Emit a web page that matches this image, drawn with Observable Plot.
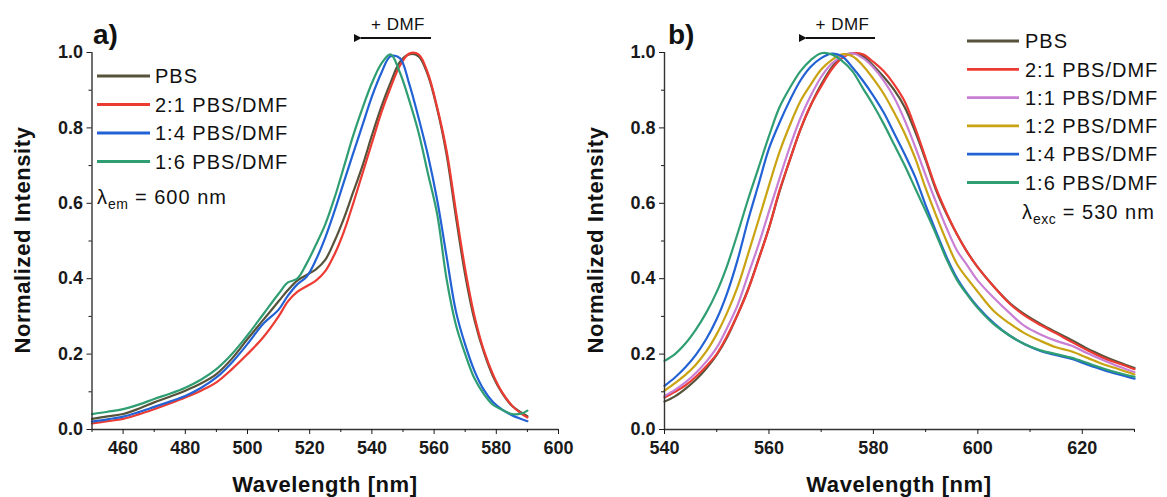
<!DOCTYPE html>
<html><head><meta charset="utf-8">
<script src="https://cdn.jsdelivr.net/npm/d3@7"></script>
<script src="https://cdn.jsdelivr.net/npm/@observablehq/plot@0.6"></script>
<style>
body{margin:0;background:#fff;}
#wrap{position:relative;width:1167px;height:497px;overflow:hidden;font-family:"Liberation Sans",Arial,sans-serif;}
.panel{position:absolute;top:0;}
#overlay{position:absolute;left:0;top:0;pointer-events:none;}
</style></head><body><div id="wrap"></div>
<script>
// ---------- Panel a) data (excitation, λem = 600 nm) ----------
const seriesA = ["PBS", "2:1 PBS/DMF", "1:4 PBS/DMF", "1:6 PBS/DMF"];
const colorsA = ["#56533a", "#ec3b33", "#2262d4", "#2f9e72"];
const wlA = [450,455,460,465,470,475,480,485,490,495,500,505,510,513,516,519,522,525,528,531,534,537,540,543,546,549,552,555,558,561,564,567,570,573,576,579,582,585,588,590];
const aPBS = [0.028,0.035,0.041,0.055,0.072,0.087,0.103,0.122,0.147,0.188,0.24,0.29,0.34,0.37,0.395,0.41,0.425,0.45,0.50,0.56,0.63,0.70,0.78,0.855,0.92,0.975,0.995,0.99,0.94,0.85,0.73,0.565,0.41,0.29,0.205,0.14,0.095,0.063,0.045,0.035];
const a21  = [0.016,0.022,0.028,0.04,0.054,0.069,0.085,0.103,0.125,0.16,0.20,0.244,0.30,0.34,0.365,0.38,0.395,0.42,0.465,0.525,0.60,0.68,0.76,0.84,0.907,0.965,0.997,0.995,0.945,0.854,0.74,0.58,0.425,0.30,0.21,0.145,0.097,0.064,0.042,0.032];
const a14  = [0.021,0.027,0.034,0.046,0.06,0.074,0.089,0.11,0.138,0.178,0.227,0.28,0.318,0.355,0.385,0.405,0.45,0.509,0.58,0.657,0.733,0.808,0.883,0.945,0.99,0.985,0.917,0.827,0.728,0.608,0.46,0.314,0.225,0.155,0.105,0.072,0.052,0.038,0.028,0.022];
const a16  = [0.041,0.047,0.054,0.066,0.081,0.095,0.111,0.132,0.16,0.2,0.25,0.305,0.36,0.39,0.40,0.44,0.49,0.544,0.615,0.697,0.78,0.853,0.919,0.97,0.995,0.947,0.873,0.788,0.68,0.571,0.40,0.278,0.20,0.135,0.094,0.065,0.052,0.041,0.042,0.05];
const xMajorA = [460,480,500,520,540,560,580,600];
const xMinorA = [450,470,490,510,530,550,570,590];

// ---------- Panel b) data (emission, λexc = 530 nm) ----------
const seriesB = ["PBS", "2:1 PBS/DMF", "1:1 PBS/DMF", "1:2 PBS/DMF", "1:4 PBS/DMF", "1:6 PBS/DMF"];
const colorsB = ["#56533a", "#ec3b33", "#c87fd4", "#c9a312", "#2262d4", "#2f9e72"];
const wlB = [540,542,544,546,548,550,552,554,556,558,560,562,564,566,568,570,572,574,576,578,580,582,584,586,588,590,592,594,596,598,600,603,606,609,612,615,618,621,624,627,630];
const bPBS = [0.074,0.088,0.108,0.132,0.162,0.198,0.245,0.305,0.372,0.452,0.535,0.63,0.715,0.795,0.86,0.915,0.96,0.99,0.998,0.99,0.965,0.935,0.9,0.855,0.79,0.715,0.635,0.572,0.518,0.47,0.43,0.38,0.337,0.305,0.28,0.258,0.237,0.214,0.195,0.178,0.163];
const b21  = [0.085,0.1,0.117,0.14,0.168,0.2,0.248,0.305,0.37,0.45,0.534,0.633,0.715,0.795,0.86,0.91,0.955,0.985,0.998,0.995,0.975,0.95,0.915,0.87,0.80,0.72,0.64,0.575,0.518,0.47,0.43,0.38,0.335,0.302,0.277,0.255,0.232,0.21,0.19,0.175,0.16];
const b11  = [0.089,0.105,0.125,0.15,0.18,0.217,0.27,0.33,0.41,0.49,0.578,0.665,0.75,0.825,0.885,0.935,0.97,0.99,0.998,0.985,0.96,0.925,0.88,0.82,0.75,0.675,0.603,0.535,0.475,0.435,0.395,0.35,0.31,0.274,0.252,0.235,0.222,0.202,0.184,0.167,0.152];
const b12  = [0.103,0.123,0.145,0.172,0.207,0.253,0.31,0.378,0.465,0.555,0.647,0.735,0.807,0.87,0.915,0.955,0.98,0.995,0.99,0.965,0.93,0.89,0.84,0.785,0.72,0.64,0.568,0.50,0.439,0.40,0.365,0.315,0.282,0.255,0.235,0.218,0.207,0.19,0.173,0.16,0.146];
const b14  = [0.116,0.138,0.165,0.198,0.24,0.293,0.362,0.45,0.555,0.65,0.745,0.813,0.873,0.925,0.962,0.985,0.997,0.99,0.96,0.925,0.885,0.84,0.785,0.73,0.67,0.595,0.525,0.458,0.402,0.36,0.325,0.283,0.25,0.226,0.208,0.197,0.187,0.172,0.158,0.146,0.135];
const b16  = [0.182,0.2,0.228,0.265,0.31,0.365,0.435,0.52,0.61,0.694,0.778,0.854,0.906,0.95,0.98,0.998,0.995,0.978,0.95,0.905,0.86,0.81,0.755,0.70,0.64,0.58,0.518,0.452,0.397,0.357,0.322,0.28,0.25,0.226,0.21,0.2,0.19,0.176,0.162,0.15,0.14];
const xMajorB = [540,560,580,600,620];
const xMinorB = [550,570,590,610,630];

const yMajor = [0,0.2,0.4,0.6,0.8,1.0];
const yMinor = [0.1,0.3,0.5,0.7,0.9];

const FONT = '"Liberation Sans", Arial, sans-serif';

function panel(wl, series, values, colors, xDomain, xMajor, xMinor, margins) {
  const rows = series.flatMap((s, i) => wl.map((w, j) => ({wl: w, v: values[i][j], s})));
  return Plot.plot({
    width: 600, height: 497, ...margins,
    x: {domain: xDomain}, y: {domain: [0, 1]},
    color: {domain: series, range: colors},
    style: {fontFamily: FONT, fontSize: "18px", fontWeight: "bold", color: "#1a1a1a", background: "transparent", overflow: "visible"},
    marks: [
      Plot.line(rows, {x: "wl", y: "v", z: "s", stroke: "s", curve: "catmull-rom", strokeWidth: 2.2}),
      Plot.ruleY([0], {stroke: "#333", strokeWidth: 1.4}),
      Plot.ruleX([xDomain[0]], {stroke: "#333", strokeWidth: 1.4}),
      Plot.axisX({ticks: xMajor, tickSize: 5, tickPadding: 7, tickFormat: d => String(d), label: null}),
      Plot.axisX({ticks: xMinor, tickSize: 3, tickFormat: () => "", label: null}),
      Plot.axisY({ticks: yMajor, tickSize: 5, tickPadding: 4, tickFormat: d => d.toFixed(1), label: null}),
      Plot.axisY({ticks: yMinor, tickSize: 3, tickFormat: () => "", label: null})
    ]
  });
}

const wrap = document.getElementById("wrap");
const pa = panel(wlA, seriesA, [aPBS, a21, a14, a16], colorsA, [450, 600], xMajorA, xMinorA,
  {marginLeft: 91.5, marginRight: 42, marginTop: 52, marginBottom: 68});
const da = document.createElement("div"); da.className = "panel"; da.style.left = "0px"; da.appendChild(pa); wrap.appendChild(da);
const pb = panel(wlB, seriesB, [bPBS, b21, b11, b12, b14, b16], colorsB, [540, 630], xMajorB, xMinorB,
  {marginLeft: 97, marginRight: 33, marginTop: 52, marginBottom: 68});
const db = document.createElement("div"); db.className = "panel"; db.style.left = "567px"; db.appendChild(pb); wrap.appendChild(db);

// ---------- overlay annotations ----------
const svg = d3.select(wrap).append("svg").attr("id", "overlay").attr("width", 1167).attr("height", 497)
  .style("font-family", FONT);
svg.append("defs").append("marker").attr("id", "ah").attr("viewBox", "0 0 10 10").attr("refX", 1).attr("refY", 5)
  .attr("markerWidth", 4.5).attr("markerHeight", 4.5).attr("orient", "auto-start-reverse")
  .append("path").attr("d", "M0,5 L10,0 L10,10 Z").attr("fill", "#111");

function axisTitles(cxX, cxY) {
  svg.append("text").attr("x", cxX).attr("y", 492).attr("text-anchor", "middle")
    .attr("font-size", 22).attr("letter-spacing", 0.6).attr("font-weight", "bold").attr("fill", "#111").text("Wavelength [nm]");
  svg.append("text").attr("transform", `translate(${cxY},240) rotate(-90)`).attr("text-anchor", "middle")
    .attr("dy", "0.35em").attr("font-size", 22).attr("letter-spacing", 0.6).attr("font-weight", "bold").attr("fill", "#111").text("Normalized Intensity");
}
axisTitles(325, 22);
axisTitles(899, 595);

function tag(x, label) {
  svg.append("text").attr("x", x).attr("y", 44).attr("font-size", 28).attr("font-weight", "bold").attr("fill", "#111").text(label);
}
tag(93, "a)");
tag(668, "b)");

function dmf(x1, x2) {
  svg.append("text").attr("x", (x1 + x2) / 2 + 5).attr("y", 30).attr("text-anchor", "middle").attr("font-size", 17).attr("letter-spacing", 0.5).attr("fill", "#111").text("+ DMF");
  svg.append("line").attr("x1", x2).attr("x2", x1 + 6).attr("y1", 38).attr("y2", 38)
    .attr("stroke", "#111").attr("stroke-width", 1.8).attr("marker-end", "url(#ah)");
}
dmf(355, 431);
dmf(800, 875);

function legend(series, colors, lx1, lx2, tx, y0, dy) {
  series.forEach((s, i) => {
    const y = y0 + i * dy;
    svg.append("line").attr("x1", lx1).attr("x2", lx2).attr("y1", y).attr("y2", y).attr("stroke", colors[i]).attr("stroke-width", 2.8);
    svg.append("text").attr("x", tx).attr("y", y).attr("dy", "0.36em").attr("font-size", 20).attr("letter-spacing", 1).attr("fill", "#111").text(s);
  });
}
legend(seriesA, colorsA, 97, 150, 155, 76, 28.5);
legend(seriesB, colorsB, 967, 1019, 1025, 41, 28.3);

function lambda(x, y, sub, rest) {
  const t = svg.append("text").attr("x", x).attr("y", y).attr("font-size", 20).attr("letter-spacing", 1).attr("fill", "#111");
  t.append("tspan").text("λ");
  t.append("tspan").attr("dy", 5).attr("font-size", 14).attr("letter-spacing", 0.5).text(sub);
  t.append("tspan").attr("dy", -5).text(rest);
}
lambda(97, 204, "em", " = 600 nm");
lambda(1022, 219, "exc", " = 530 nm");
</script></body></html>
